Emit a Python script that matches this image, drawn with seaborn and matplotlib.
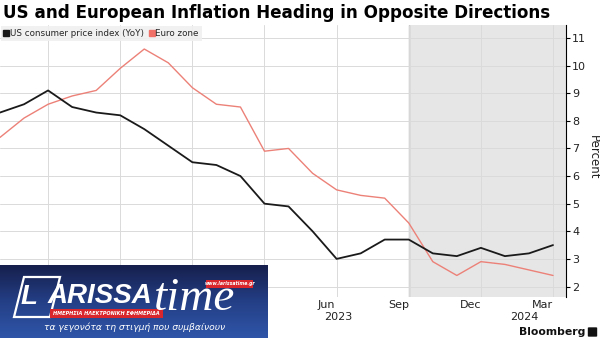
import numpy as np
import pandas as pd
import matplotlib
matplotlib.use("Agg")
import matplotlib.pyplot as plt
import seaborn as sns
from matplotlib.lines import Line2D
from matplotlib.patches import Rectangle, Polygon, FancyBboxPatch
from matplotlib.colors import LinearSegmentedColormap

# ---------------- data ----------------
months = ["2022-04", "2022-05", "2022-06", "2022-07", "2022-08", "2022-09",
          "2022-10", "2022-11", "2022-12", "2023-01", "2023-02", "2023-03",
          "2023-04", "2023-05", "2023-06", "2023-07", "2023-08", "2023-09",
          "2023-10", "2023-11", "2023-12", "2024-01", "2024-02", "2024-03"]
us_cpi = [8.3, 8.6, 9.1, 8.5, 8.3, 8.2, 7.7, 7.1, 6.5, 6.4, 6.0, 5.0,
          4.9, 4.0, 3.0, 3.2, 3.7, 3.7, 3.2, 3.1, 3.4, 3.1, 3.2, 3.5]
euro_zone = [7.4, 8.1, 8.6, 8.9, 9.1, 9.9, 10.6, 10.1, 9.2, 8.6, 8.5, 6.9,
             7.0, 6.1, 5.5, 5.3, 5.2, 4.3, 2.9, 2.4, 2.9, 2.8, 2.6, 2.4]
series_names = ["US consumer price index (YoY)", "Euro zone"]
month_ticks = ["2023-06", "2023-09", "2023-12", "2024-03"]
month_tick_labels = ["Jun", "Sep", "Dec", "Mar"]
grid_months = ["2022-06", "2022-09", "2022-12", "2023-03", "2023-06",
               "2023-09", "2023-12", "2024-03"]
year_labels = ["2023", "2024"]
year_label_pos = [14.05, 21.8]
shade_start = "2023-09"
y_ticks = [2, 3, 4, 5, 6, 7, 8, 9, 10, 11]

df = pd.DataFrame({"month": months, "idx": range(len(months)),
                   series_names[0]: us_cpi, series_names[1]: euro_zone})
idx_of = {m: i for i, m in enumerate(months)}

sns.set_theme(style="white")
plt.rcParams["font.family"] = ["DejaVu Sans"]

W, H = 600, 338
fig = plt.figure(figsize=(W / 100, H / 100), dpi=100)
ax = fig.add_axes([0, 41 / H, 566 / W, 272 / H])

US_COLOR = "#1a1a1a"
EU_COLOR = "#ec8178"

sns.lineplot(data=df, x="idx", y=series_names[1], color=EU_COLOR, lw=1.0, ax=ax, zorder=3)
sns.lineplot(data=df, x="idx", y=series_names[0], color=US_COLOR, lw=1.3, ax=ax, zorder=4)

ax.set_xlim(0, 23.54)
ax.set_ylim(1.62, 11.47)
ax.set_xlabel("")
ax.set_ylabel("")

# shading for forecast-ish region
s = idx_of[shade_start]
ax.axvspan(s, 23.54, color="#e6e6e6", lw=0, zorder=0.2)
ax.axvline(s, color="#8f8f8f", lw=0.9, zorder=0.3)

# grid
ax.set_axisbelow(True)
ax.set_yticks(y_ticks)
ax.grid(axis="y", which="major", color="#dadada", lw=0.7)
ax.set_xticks([idx_of[m] for m in grid_months], minor=True)
ax.grid(axis="x", which="minor", color="#dadada", lw=0.7)
ax.set_xticks([idx_of[m] - 0.42 for m in month_ticks])
ax.set_xticklabels(month_tick_labels)
ax.tick_params(axis="x", which="both", length=0, pad=2.5, labelsize=8, labelcolor="#222222")

ax.yaxis.tick_right()
ax.tick_params(axis="y", which="major", direction="out", length=3, width=0.8,
               color="black", labelsize=8, pad=1.5, labelcolor="#222222", right=True, left=False)
for side in ["top", "left", "bottom"]:
    ax.spines[side].set_visible(False)
ax.spines["right"].set_color("black")
ax.spines["right"].set_linewidth(0.8)

for lab, xp in zip(year_labels, year_label_pos):
    ax.annotate(lab, xy=(xp, 0), xycoords=("data", "axes fraction"), xytext=(0, -10.5),
                textcoords="offset points", ha="center", va="top", fontsize=8, color="#222222")

# legend
handles = [Line2D([], [], marker="s", linestyle="", markerfacecolor=US_COLOR, markeredgecolor=US_COLOR, markersize=4.5),
           Line2D([], [], marker="s", linestyle="", markerfacecolor="#f07068", markeredgecolor="#f07068", markersize=4.5)]
leg = ax.legend(handles, series_names, loc="upper left", bbox_to_anchor=(0, 1), ncol=2,
                fontsize=6.3, handlelength=0.5, handletextpad=0.15, columnspacing=0.7,
                borderpad=0.35, borderaxespad=0.1, frameon=True, fancybox=False,
                facecolor="#f0f0f0", edgecolor="none", framealpha=0.9)
leg.set_zorder(10)

# title (fit to width)
title = fig.text(3 / W, 1 - 13 / H, "US and European Inflation Heading in Opposite Directions",
                 fontsize=13, fontweight="bold", va="center", ha="left", color="black")
fig.canvas.draw()
wpx = title.get_window_extent().width
title.set_fontsize(13 * 545 / wpx)

fig.text(593 / W, 1 - 157 / H, "Percent", rotation=270, ha="center", va="center",
         fontsize=8.5, color="#222222")

# Bloomberg watermark
fig.text(585 / W, 1 - 332 / H, "Bloomberg", ha="right", va="center", fontsize=7.8,
         fontweight="bold", color="#111111")
fig.patches.append(FancyBboxPatch((589 / W, 1 - 336 / H), 7 / W, 8 / H,
                                  boxstyle="round,pad=0.002", transform=fig.transFigure,
                                  facecolor="#111111", edgecolor="none"))

# ---------------- logo overlay ----------------
LW_, LH_ = 268, 73
lax = fig.add_axes([0, 0, LW_ / W, LH_ / H])
lax.set_zorder(20)
cmap = LinearSegmentedColormap.from_list("lg", ["#2f55a8", "#243f86", "#161f4c"])
grad = np.linspace(0, 1, 100).reshape(-1, 1)
lax.imshow(grad, extent=(0, LW_, 0, LH_), origin="lower", cmap=cmap, aspect="auto")
lax.set_xlim(0, LW_)
lax.set_ylim(0, LH_)
lax.axis("off")

def ly(y_img):
    return 338 - y_img

# L box
lax.add_patch(Polygon([(24, ly(277)), (60, ly(277)), (50, ly(317)), (14, ly(317))],
                      closed=True, fill=False, edgecolor="white", lw=1.6))
lax.text(21, ly(304), "L", color="white", fontsize=20, fontweight="bold", fontstyle="italic",
         family="Liberation Sans", ha="left", va="baseline")
lax.text(48, ly(303), "ARISSA", color="white", fontsize=20, fontweight="bold", fontstyle="italic",
         family="Liberation Sans", ha="left", va="baseline")
lax.text(154, ly(310), "time", color="white", fontsize=34, fontstyle="italic",
         family="Liberation Serif", ha="left", va="baseline")
lax.add_patch(Rectangle((206, ly(288)), 47, 8, facecolor="#d8262c", edgecolor="none"))
lax.text(229.5, ly(284), "www.larissatime.gr", color="white", fontsize=3.3, fontweight="bold",
         fontstyle="italic", ha="center", va="center")
lax.add_patch(Rectangle((50, ly(318)), 113, 9, facecolor="#d8262c", edgecolor="none"))
lax.text(106.5, ly(313.5), "ΗΜΕΡΗΣΙΑ ΗΛΕΚΤΡΟΝΙΚΗ ΕΦΗΜΕΡΙΔΑ", color="white", fontsize=3.6,
         fontweight="bold", fontstyle="italic", ha="center", va="center")
lax.text(135, ly(327), "τα γεγονότα τη στιγμή που συμβαίνουν", color="white", fontsize=6.6,
         fontstyle="italic", ha="center", va="center")

fig.savefig("out.png", dpi=100)
